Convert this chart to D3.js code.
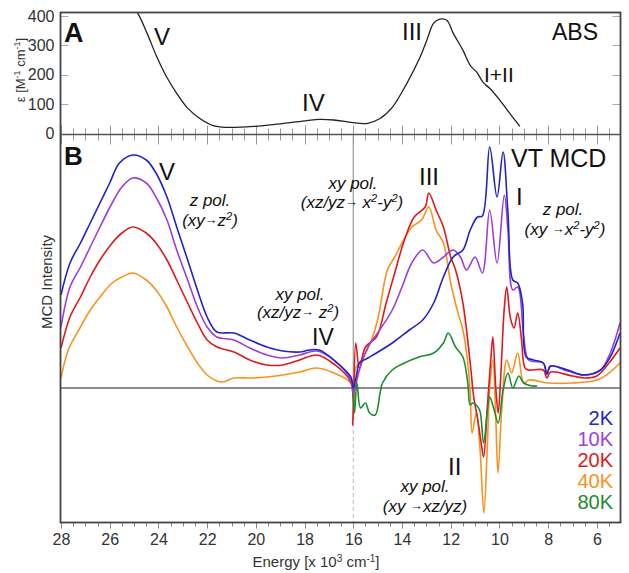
<!DOCTYPE html>
<html>
<head>
<meta charset="utf-8">
<script src="https://cdn.jsdelivr.net/npm/d3@7"></script>
<style>
  html, body { margin: 0; padding: 0; background: #fff; }
  svg { display: block; font-family: "Liberation Sans", Arial, sans-serif; }
</style>
</head>
<body>
<svg id="chart" width="629" height="573"></svg>
<script>
// ---------------- DATA ----------------
const energyTicks = [28, 26, 24, 22, 20, 18, 16, 14, 12, 10, 8, 6];
const absTicks = [0, 100, 200, 300, 400];

// Absorption spectrum: [energy (x10^3 cm-1), epsilon]
const absData = [[25.2,440],[24.88,414],[24.47,342],[24.06,260],[23.65,191],[23.25,137],[22.83,89],[22.3,51],[21.76,27],[21.2,21],[20.1,24],[18.9,34],[17.9,44],[17.4,48],[16.8,46],[16.1,38],[15.45,34],[14.9,51],[14.4,89],[13.8,171],[13.26,260],[12.98,318],[12.7,376],[12.44,390],[12.16,386],[11.9,342],[11.5,284],[11.2,232],[10.93,209],[10.67,174],[10.4,154],[9.98,113],[9.57,68],[9.16,24]];

// VT MCD spectra (arbitrary units): [energy, intensity]
const mcd2K = [[28,93],[27.63,125],[27.2,145],[26.8,165],[26.4,185],[26.0,205],[25.6,225],[25.05,233],[24.5,228],[24.1,215],[23.65,191],[23.25,161],[22.8,128],[22.4,98],[22.0,71],[21.6,56],[20.9,55],[20.25,48],[19.55,41],[18.9,37],[18.2,36],[17.8,38],[17.4,38],[16.8,28],[16.1,11],[16.0,0],[15.85,15],[15.75,25],[15.4,30],[15.05,35],[14.4,45],[13.7,58],[13.15,68],[12.7,85],[12.3,111],[11.9,131],[11.5,138],[11.2,158],[10.9,171],[10.7,172],[10.4,241],[10.1,191],[9.85,236],[9.65,175],[9.45,108],[9.25,105],[9.05,85],[8.9,31],[8.6,28],[8.2,25],[8.05,14],[7.9,22],[7.2,18],[6.55,13],[5.85,18],[5.45,31],[5.05,55]];
const mcd10K = [[28,61],[27.63,101],[27.2,121],[26.8,141],[26.4,161],[25.9,185],[25.5,201],[25.05,210],[24.5,205],[24.1,191],[23.65,168],[23.25,138],[22.8,108],[22.4,81],[22.0,61],[21.6,51],[20.9,48],[20.25,40],[19.55,33],[18.9,30],[18.2,33],[17.5,37],[16.8,28],[16.1,8],[16.0,-5],[15.75,18],[15.4,41],[15.0,55],[14.4,78],[14.0,101],[13.6,125],[13.15,138],[12.7,125],[12.3,131],[11.9,138],[11.6,131],[11.35,118],[11.0,131],[10.7,115],[10.4,178],[10.1,125],[9.8,193],[9.65,158],[9.45,98],[9.25,101],[9.0,51],[8.8,28],[8.2,25],[8.05,14],[7.9,22],[7.2,17],[6.5,13],[5.85,18],[5.45,35],[5.05,65]];
const mcd20K = [[28,40],[27.63,71],[27.2,91],[26.8,111],[26.4,128],[25.9,145],[25.5,155],[25.05,161],[24.5,155],[24.1,145],[23.65,128],[23.25,108],[22.8,85],[22.4,65],[22.0,48],[21.6,41],[20.9,36],[20.25,28],[19.55,23],[18.9,23],[18.2,28],[17.5,33],[16.8,24],[16.1,6],[16.02,-37],[15.9,45],[15.75,20],[15.5,41],[15.05,51],[14.65,85],[14.3,115],[13.9,148],[13.5,171],[13.05,181],[12.9,195],[12.6,178],[12.3,161],[12.0,131],[11.8,118],[11.5,85],[11.2,25],[11.05,-10],[10.9,-30],[10.75,-55],[10.65,-69],[10.5,-20],[10.35,30],[10.27,51],[10.15,0],[10.05,-25],[9.95,10],[9.8,80],[9.7,101],[9.55,70],[9.4,60],[9.25,75],[9.1,50],[8.95,20],[8.8,18],[8.2,18],[8.05,10],[7.9,16],[7.0,12],[6.5,10],[6.0,12],[5.5,25],[5.05,40]];
const mcd40K = [[28,10],[27.7,38],[27.2,61],[26.8,78],[26.4,91],[25.9,105],[25.5,111],[25.05,115],[24.5,108],[24.1,98],[23.65,81],[23.25,61],[22.8,41],[22.4,25],[22.0,13],[21.6,7],[21.35,6],[20.9,10],[20.25,10],[19.55,11],[18.9,13],[18.2,16],[17.5,20],[16.8,15],[16.1,5],[16.0,-10],[15.9,20],[15.6,30],[15.3,45],[15.0,68],[14.6,118],[14.3,131],[14.0,145],[13.6,161],[13.2,168],[12.9,181],[12.6,158],[12.3,145],[12.0,105],[11.7,75],[11.5,58],[11.3,25],[11.2,-5],[11.12,-45],[10.95,-25],[10.8,-60],[10.64,-125],[10.5,-60],[10.4,0],[10.27,28],[10.15,-30],[10.06,-85],[9.9,-20],[9.7,28],[9.5,15],[9.25,35],[9.0,5],[8.8,8],[8.0,5],[7.0,5],[6.0,8],[5.5,15],[5.05,25]];
const mcd80K = [[16.0,-5],[15.95,-25],[15.85,5],[15.7,-20],[15.5,-15],[15.33,-25],[15.1,-27],[14.9,-5],[14.8,5],[14.4,18],[13.9,25],[13.3,31],[12.7,35],[12.3,45],[12.1,55],[11.8,41],[11.5,31],[11.3,5],[11.2,-17],[11.1,-15],[10.95,-17],[10.8,-23],[10.65,-55],[10.4,-9],[10.25,-19],[10.05,-35],[9.85,-2],[9.65,15],[9.45,0],[9.2,12],[9.0,5],[8.65,2],[8.45,2]];

const seriesNames = ["2K", "10K", "20K", "40K", "80K"];
const seriesColors = ["#2323c8", "#9b3fdc", "#e0191e", "#f7931e", "#1e8c32"];
const seriesData = [mcd2K, mcd10K, mcd20K, mcd40K, mcd80K];
const drawOrder = [3, 2, 1, 0, 4];

// ---------------- LAYOUT ----------------
const L = 60.5, R = 620.5, topA = 12.5, botA = 134.5, botB = 522.5;
const svg = d3.select("#chart");

const x = d3.scaleLinear().domain([28, 5.05]).range([61, 620]);
const yA = d3.scaleLinear().domain([0, 414]).range([133.5, 12]);
const yB = d3.scaleLinear().domain([-134, 254]).range([522, 134]);

const defs = svg.append("defs");
defs.append("clipPath").attr("id", "clipA").append("rect")
  .attr("x", L).attr("y", topA).attr("width", R - L).attr("height", botA - topA);
defs.append("clipPath").attr("id", "clipB").append("rect")
  .attr("x", L).attr("y", botA).attr("width", R - L).attr("height", botB - botA);

svg.append("line").attr("x1", L).attr("x2", R).attr("y1", yB(0)).attr("y2", yB(0))
  .attr("stroke", "#666").attr("stroke-width", 1.5);
svg.append("line").attr("x1", x(16)).attr("x2", x(16)).attr("y1", botA).attr("y2", yB(0))
  .attr("stroke", "#999").attr("stroke-width", 1.2);
svg.append("line").attr("x1", x(16)).attr("x2", x(16)).attr("y1", yB(0)).attr("y2", botB)
  .attr("stroke", "#bbb").attr("stroke-width", 1).attr("stroke-dasharray", "4,3");

const minor = d3.range(28, 5, -0.5);
const xTickG = svg.append("g");
minor.forEach(v => {
  const major = Math.abs(v % 2) < 1e-6;
  const px = Math.round(x(v)) + 0.5;
  xTickG.append("line").attr("x1", px).attr("x2", px)
    .attr("y1", botA - (major ? 9 : 6)).attr("y2", botA + (major ? 10 : 6))
    .attr("stroke", "#999").attr("stroke-width", 1);
  xTickG.append("line").attr("x1", px).attr("x2", px)
    .attr("y1", botB).attr("y2", botB + (major ? 6 : 4))
    .attr("stroke", "#888").attr("stroke-width", 1);
});

const xAxis = d3.axisBottom(x).tickValues(energyTicks).tickSize(0).tickPadding(11);
const xg = svg.append("g").attr("transform", `translate(0,${botB})`).call(xAxis);
xg.select(".domain").remove();
xg.selectAll("text").attr("font-size", 16).attr("fill", "#333")
  .attr("font-family", "Liberation Sans, Arial, sans-serif");

const yAxisA = d3.axisLeft(yA).tickValues(absTicks).tickSize(0).tickPadding(6);
const yg = svg.append("g").attr("transform", `translate(${L},0)`).call(yAxisA);
yg.select(".domain").remove();
yg.selectAll("text").attr("font-size", 16).attr("fill", "#333")
  .attr("font-family", "Liberation Sans, Arial, sans-serif");
absTicks.forEach(v => {
  const py = Math.round(yA(v)) + 0.5;
  if (v > 0) {
    svg.append("line").attr("x1", L).attr("x2", L + 8).attr("y1", py).attr("y2", py)
      .attr("stroke", "#aaa").attr("stroke-width", 1);
    svg.append("line").attr("x1", R - 8).attr("x2", R).attr("y1", py).attr("y2", py)
      .attr("stroke", "#aaa").attr("stroke-width", 1);
  }
});

// ---------------- CURVES ----------------
const lineGen = d3.line().x(d => x(d[0])).y(d => yA(d[1])).curve(d3.curveCatmullRom.alpha(0.5));
svg.append("g").attr("clip-path", "url(#clipA)").append("path")
  .datum(absData).attr("d", lineGen).attr("fill", "none")
  .attr("stroke", "#222").attr("stroke-width", 1.3);

const lineB = d3.line().x(d => x(d[0])).y(d => yB(d[1])).curve(d3.curveCatmullRom.alpha(0.5));
const gB = svg.append("g").attr("clip-path", "url(#clipB)");
drawOrder.forEach(i => {
  gB.append("path").datum(seriesData[i]).attr("d", lineB).attr("fill", "none")
    .attr("stroke", seriesColors[i]).attr("stroke-width", 1.6).attr("stroke-linejoin", "round");
});

// ---------------- FRAME ----------------
svg.append("rect").attr("x", L).attr("y", topA).attr("width", R - L).attr("height", botB - topA)
  .attr("fill", "none").attr("stroke", "#444").attr("stroke-width", 1.8);
svg.append("line").attr("x1", L).attr("x2", R).attr("y1", botA).attr("y2", botA)
  .attr("stroke", "#555").attr("stroke-width", 1.5);

// ---------------- TEXT ----------------
function txt(t, px, py, size, opts = {}) {
  const el = svg.append("text").attr("x", px).attr("y", py).attr("font-size", size)
    .attr("fill", opts.fill || "#111").attr("text-anchor", opts.anchor || "start");
  if (opts.bold) el.attr("font-weight", "bold");
  if (opts.italic) el.attr("font-style", "italic");
  el.text(t);
  return el;
}
function rich(parts, px, py, size, anchor) {
  const el = svg.append("text").attr("x", px).attr("y", py).attr("font-size", size)
    .attr("font-style", "italic").attr("fill", "#111").attr("text-anchor", anchor || "start");
  let shifted = 0;
  parts.forEach(([t, type]) => {
    const ts = el.append("tspan").text(t);
    if (type === "s") { const s = -size * 0.33; ts.attr("font-size", size * 0.65).attr("dy", s - shifted); shifted = s; }
    else if (type === "a") { const s = -size * 0.12; ts.attr("font-size", size * 0.75).attr("dy", s - shifted).attr("font-style", "normal"); shifted = s; }
    else { if (shifted !== 0) { ts.attr("dy", -shifted); shifted = 0; } }
  });
  return el;
}

txt("A", 64, 42, 27, { bold: true });
txt("V", 154, 45, 24);
txt("IV", 302, 111, 24);
txt("III", 402, 40, 24);
txt("ABS", 552, 40, 23);
txt("I+II", 484, 82, 21);

txt("B", 64, 165, 26, { bold: true });
txt("VT MCD", 511, 167, 25);
txt("V", 159, 180, 24);
txt("IV", 312, 345, 23);
txt("III", 419, 185, 24);
txt("I", 516, 205, 24);
txt("II", 448, 475, 24);

const fs = 17;
rich([["z pol.", "n"]], 210, 206, fs, "middle");
rich([["(xy", "n"], ["\u2192", "a"], ["z", "n"], ["2", "s"], [")", "n"]], 210, 226, fs, "middle");

rich([["xy pol.", "n"]], 300, 300, fs, "middle");
rich([["(xz/yz", "n"], ["\u2192", "a"], [" z", "n"], ["2", "s"], [")", "n"]], 298, 318, fs, "middle");

rich([["xy pol.", "n"]], 353, 189, fs, "middle");
rich([["(xz/yz", "n"], ["\u2192", "a"], [" x", "n"], ["2", "s"], ["-y", "n"], ["2", "s"], [")", "n"]], 352, 208, fs, "middle");

rich([["z pol.", "n"]], 563, 215, fs, "middle");
rich([["(xy ", "n"], ["\u2192", "a"], ["x", "n"], ["2", "s"], ["-y", "n"], ["2", "s"], [")", "n"]], 565, 235, fs, "middle");

rich([["xy pol.", "n"]], 425, 492, fs, "middle");
rich([["(xy ", "n"], ["\u2192", "a"], ["xz/yz)", "n"]], 425, 512, fs, "middle");

seriesNames.forEach((n, i) => {
  txt(n, 613, 425 + i * 21, 20, { anchor: "end", fill: seriesColors[i] });
});

const yTitleA = svg.append("text").attr("transform", "translate(25,70) rotate(-90)")
  .attr("text-anchor", "middle").attr("font-size", 13).attr("fill", "#333");
yTitleA.append("tspan").text("\u03b5 [M");
yTitleA.append("tspan").text("-1").attr("font-size", 9).attr("dy", -5);
yTitleA.append("tspan").text(" cm").attr("dy", 5);
yTitleA.append("tspan").text("-1").attr("font-size", 9).attr("dy", -5);
yTitleA.append("tspan").text("]").attr("dy", 5);

svg.append("text").attr("transform", "translate(52,282) rotate(-90)")
  .attr("text-anchor", "middle").attr("font-size", 15).attr("fill", "#333").text("MCD Intensity");

const xTitle = svg.append("text").attr("x", 316).attr("y", 567)
  .attr("text-anchor", "middle").attr("font-size", 15).attr("fill", "#333");
xTitle.append("tspan").text("Energy [x 10");
xTitle.append("tspan").text("3").attr("font-size", 10).attr("dy", -5);
xTitle.append("tspan").text(" cm").attr("dy", 5);
xTitle.append("tspan").text("-1").attr("font-size", 10).attr("dy", -5);
xTitle.append("tspan").text("]").attr("dy", 5);
</script>
</body>
</html>
